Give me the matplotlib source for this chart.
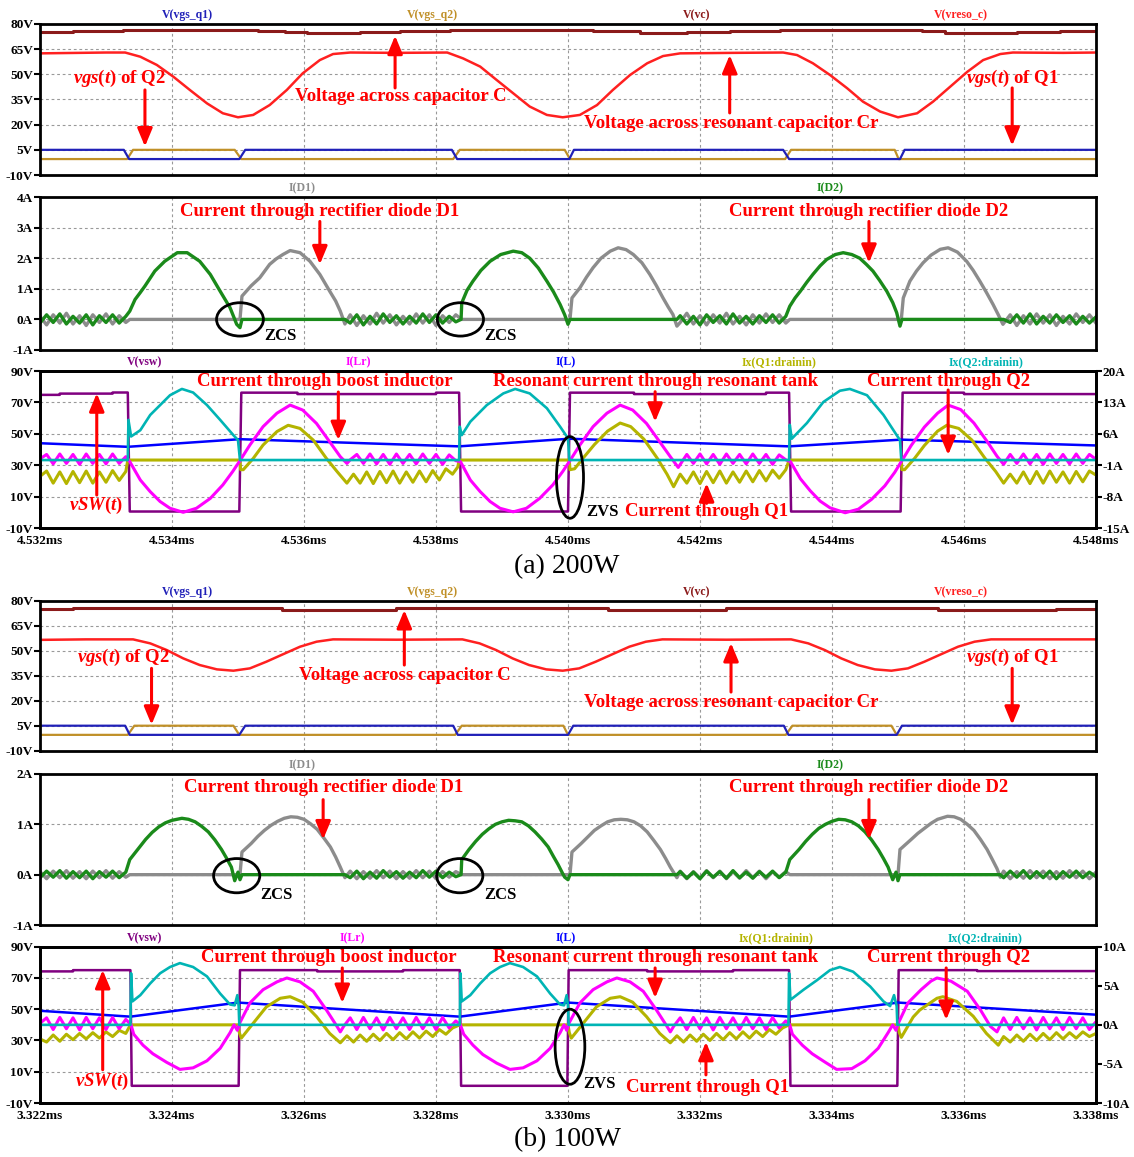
import numpy as np
import matplotlib
matplotlib.use('Agg')
import matplotlib.pyplot as plt
from matplotlib.patches import Ellipse

plt.rcParams['font.family'] = ['Liberation Serif', 'DejaVu Serif']
plt.rcParams['font.weight'] = 'bold'
plt.rcParams['mathtext.fontset'] = 'custom'
plt.rcParams['mathtext.it'] = 'Liberation Serif:italic:bold'
plt.rcParams['mathtext.rm'] = 'Liberation Serif:bold'

# time axis: microseconds from the left edge of each window
x_ticks = [0, 2, 4, 6, 8, 10, 12, 14, 16]
a_xlabels = ['4.532ms', '4.534ms', '4.536ms', '4.538ms', '4.540ms', '4.542ms', '4.544ms', '4.546ms', '4.548ms']
b_xlabels = ['3.322ms', '3.324ms', '3.326ms', '3.328ms', '3.330ms', '3.332ms', '3.334ms', '3.336ms', '3.338ms']

gate_ticks = [80, 65, 50, 35, 20, 5, -10]
gate_labels = ['80V', '65V', '50V', '35V', '20V', '5V', '-10V']
a_diode_ticks = [4, 3, 2, 1, 0, -1]
a_diode_labels = ['4A', '3A', '2A', '1A', '0A', '-1A']
b_diode_ticks = [2, 1, 0, -1]
b_diode_labels = ['2A', '1A', '0A', '-1A']
sw_ticks = [90, 70, 50, 30, 10, -10]
sw_labels = ['90V', '70V', '50V', '30V', '10V', '-10V']
a_cur_ticks = [20, 13, 6, -1, -8, -15]
a_cur_labels = ['20A', '13A', '6A', '-1A', '-8A', '-15A']
b_cur_ticks = [10, 5, 0, -5, -10]
b_cur_labels = ['10A', '5A', '0A', '-5A', '-10A']

# ---------------- (a) 200W ----------------
a_vgs1 = [(0, 5), (1.27, 5), (1.35, -0.5), (3.02, -0.5), (3.11, 5), (6.24, 5), (6.32, -0.5), (8.02, -0.5),
          (8.09, 5), (11.26, 5), (11.35, -0.5), (13.03, -0.5), (13.1, 5), (16, 5)]
a_vgs2 = [(0, -0.5), (1.32, -0.5), (1.41, 5), (2.95, 5), (3.05, -0.5), (6.26, -0.5), (6.36, 5), (7.95, 5),
          (8.03, -0.5), (11.29, -0.5), (11.38, 5), (12.95, 5), (13.01, -0.5), (16, -0.5)]
a_vc = [(0, 75.0), (0.5, 75.8), (1.26, 76.4), (3.3, 75.8), (3.71, 75.0), (4.05, 74.5), (4.85, 75.0),
        (5.45, 75.8), (6.21, 76.4), (8.38, 75.8), (9.09, 74.5), (9.8, 75.0), (10.45, 75.8), (11.21, 76.4),
        (13.36, 75.6), (13.71, 74.5), (14.8, 75.0), (15.45, 75.8), (16, 75.8)]
a_vres = [(0, 62.5), (0.6, 62.8), (1.0, 63.0), (1.29, 63.0), (1.52, 60.5), (1.77, 55.6), (2.02, 48.6),
          (2.27, 40.7), (2.53, 32.7), (2.77, 26.8), (3.0, 24.4), (3.23, 25.8), (3.48, 31.7), (3.74, 40.7),
          (3.98, 50.6), (4.24, 58.5), (4.44, 62.1), (4.7, 63.0), (5.4, 62.8), (6.17, 63.0), (6.41, 59.5),
          (6.67, 54.6), (6.92, 46.6), (7.17, 38.7), (7.42, 30.8), (7.68, 25.8), (7.92, 24.4), (8.18, 25.8),
          (8.44, 31.7), (8.68, 40.7), (8.94, 49.6), (9.2, 56.6), (9.44, 60.9), (9.7, 62.5), (10.5, 62.8),
          (11.26, 63.0), (11.47, 61.5), (11.71, 56.6), (11.97, 49.6), (12.23, 41.7), (12.47, 33.7),
          (12.73, 27.8), (13.0, 24.4), (13.29, 26.8), (13.53, 33.7), (13.79, 42.6), (14.05, 51.5),
          (14.29, 58.5), (14.55, 62.1), (14.74, 63.0), (15.5, 62.8), (16, 63.0)]

a_d1 = [(0.0, 0.10), (0.1, -0.18), (0.2, 0.15), (0.3, -0.12), (0.4, 0.20), (0.5, -0.15), (0.6, 0.12),
        (0.7, -0.20), (0.8, 0.15), (0.9, -0.10), (1.0, 0.18), (1.1, -0.15), (1.2, 0.12), (1.3, -0.10),
        (1.36, 0.0), (3.03, 0.0),
        (3.06, 0.76), (3.2, 1.1), (3.33, 1.36), (3.48, 1.8), (3.58, 1.98), (3.68, 2.12), (3.79, 2.25),
        (3.94, 2.18), (4.09, 1.9), (4.24, 1.47), (4.39, 0.92), (4.48, 0.6), (4.55, 0.27), (4.62, -0.15),
        (4.7, 0.15), (4.8, -0.2), (4.9, 0.12), (5.0, -0.15), (5.1, 0.2), (5.2, -0.12), (5.3, 0.15),
        (5.4, -0.18), (5.5, 0.1), (5.6, -0.15), (5.7, 0.18), (5.8, -0.12), (5.9, 0.15), (6.0, -0.2),
        (6.1, 0.12), (6.2, -0.1), (6.3, 0.15), (6.39, 0.0), (8.03, 0.0),
        (8.06, 0.7), (8.18, 1.03), (8.28, 1.38), (8.38, 1.69), (8.5, 2.0), (8.64, 2.23), (8.76, 2.34),
        (8.88, 2.28), (8.99, 2.12), (9.12, 1.85), (9.24, 1.47), (9.34, 1.1), (9.44, 0.7), (9.52, 0.4),
        (9.59, 0.16), (9.65, -0.22),
        (9.7, -0.1), (9.8, 0.2), (9.9, -0.15), (10.0, 0.12), (10.1, -0.18), (10.2, 0.15), (10.3, -0.12),
        (10.4, 0.2), (10.5, -0.15), (10.6, 0.1), (10.7, -0.18), (10.8, 0.15), (10.9, -0.12), (11.0, 0.18),
        (11.1, -0.1), (11.2, 0.15), (11.3, -0.12), (11.36, 0.0), (13.05, 0.0),
        (13.08, 0.7), (13.18, 1.25), (13.28, 1.58), (13.38, 1.85), (13.5, 2.1), (13.64, 2.29),
        (13.76, 2.34), (13.9, 2.2), (14.04, 1.9), (14.14, 1.6), (14.24, 1.25), (14.34, 0.88),
        (14.44, 0.49), (14.52, 0.15), (14.59, -0.16),
        (14.7, 0.15), (14.8, -0.2), (14.9, 0.12), (15.0, -0.15), (15.1, 0.18), (15.2, -0.12), (15.3, 0.15),
        (15.4, -0.2), (15.5, 0.1), (15.6, -0.15), (15.7, 0.18), (15.8, -0.1), (15.9, 0.15), (16.0, -0.12)]
a_d2 = [(0.0, -0.12), (0.1, 0.15), (0.2, -0.1), (0.3, 0.18), (0.4, -0.15), (0.5, 0.1), (0.6, -0.12),
        (0.7, 0.15), (0.8, -0.18), (0.9, 0.12), (1.0, -0.1), (1.1, 0.15), (1.2, -0.12), (1.3, 0.1),
        (1.36, 0.27), (1.44, 0.65), (1.52, 0.88), (1.59, 1.09), (1.74, 1.58), (1.89, 1.9), (2.08, 2.18),
        (2.23, 2.18), (2.42, 1.9), (2.58, 1.47), (2.73, 0.92), (2.88, 0.38), (2.98, -0.16), (3.03, -0.27),
        (3.06, 0.0), (4.62, 0.0),
        (4.7, -0.12), (4.8, 0.15), (4.9, -0.18), (5.0, 0.1), (5.1, -0.15), (5.2, 0.18), (5.3, -0.1),
        (5.4, 0.12), (5.5, -0.15), (5.6, 0.1), (5.7, -0.12), (5.8, 0.18), (5.9, -0.1), (6.0, 0.15),
        (6.1, -0.12), (6.2, 0.1), (6.3, -0.08),
        (6.38, 0.0), (6.39, 0.54), (6.47, 0.95), (6.56, 1.25), (6.68, 1.6), (6.82, 1.9), (6.98, 2.12),
        (7.17, 2.23), (7.3, 2.18), (7.42, 2.0), (7.55, 1.68), (7.68, 1.25), (7.78, 0.9), (7.88, 0.49),
        (7.95, 0.15), (8.0, -0.16), (8.03, 0.0), (9.65, 0.0),
        (9.7, 0.12), (9.8, -0.15), (9.9, 0.1), (10.0, -0.18), (10.1, 0.15), (10.2, -0.1), (10.3, 0.12),
        (10.4, -0.15), (10.5, 0.18), (10.6, -0.12), (10.7, 0.1), (10.8, -0.15), (10.9, 0.12), (11.0, -0.1),
        (11.1, 0.15), (11.2, -0.12), (11.3, 0.1),
        (11.36, 0.43), (11.44, 0.7), (11.52, 0.92), (11.62, 1.22), (11.71, 1.47), (11.82, 1.75),
        (11.92, 1.96), (12.05, 2.12), (12.17, 2.18), (12.3, 2.12), (12.42, 2.0), (12.52, 1.8),
        (12.62, 1.58), (12.72, 1.28), (12.83, 0.92), (12.92, 0.55), (12.98, 0.22), (13.03, -0.22),
        (13.06, 0.0), (14.6, 0.0),
        (14.7, -0.1), (14.8, 0.15), (14.9, -0.12), (15.0, 0.18), (15.1, -0.15), (15.2, 0.1), (15.3, -0.12),
        (15.4, 0.15), (15.5, -0.1), (15.6, 0.12), (15.7, -0.15), (15.8, 0.1), (15.9, -0.12), (16.0, 0.08)]

a_vsw = [(0, 74.8), (0.3, 74.8), (0.3, 75.6), (1.1, 75.6), (1.1, 76.3), (1.33, 76.3), (1.36, 0.5),
         (3.02, 0.5), (3.05, 76.2), (3.9, 76.2), (3.9, 75.3), (6.0, 75.3), (6.0, 76.2), (6.35, 76.2),
         (6.38, 0.5), (8.0, 0.5), (8.03, 76.2), (9.0, 76.2), (9.0, 75.3), (11.0, 75.3), (11.0, 76.2),
         (11.35, 76.2), (11.38, 0.5), (13.04, 0.5), (13.07, 76.2), (14.0, 76.2), (14.0, 75.3), (16.0, 75.3)]
a_il = [(0, 3.9), (1.33, 3.1), (3.03, 4.8), (6.35, 3.2), (8.02, 4.9), (11.35, 3.2), (13.05, 4.7), (16, 3.4)]
a_iq2 = [(0, 0.15), (1.33, 0.15), (1.34, 9.1), (1.38, 5.4), (1.52, 6.8), (1.67, 10.2), (1.82, 12.4),
         (1.97, 14.6), (2.15, 16.0), (2.32, 15.2), (2.53, 12.4), (2.73, 9.1), (2.93, 5.7), (3.0, 4.6),
         (3.03, 0.15), (6.35, 0.15), (6.36, 7.6), (6.39, 5.7), (6.52, 8.7), (6.77, 12.4), (7.02, 15.0),
         (7.2, 16.0), (7.42, 15.0), (7.68, 11.7), (7.88, 7.6), (8.0, 5.0), (8.02, 0.15), (11.35, 0.15),
         (11.36, 8.0), (11.39, 4.9), (11.62, 8.4), (11.87, 13.1), (12.12, 15.6), (12.27, 16.0),
         (12.53, 14.6), (12.78, 10.2), (12.98, 5.7), (13.03, 4.6), (13.05, 0.15), (16, 0.15)]
a_ilr = [(0.0, 0.4), (0.1, 1.4), (0.2, -0.7), (0.3, 1.5), (0.4, -0.6), (0.5, 1.4), (0.6, -0.8), (0.7, 1.5),
         (0.8, -0.6), (0.9, 1.4), (1.0, -0.7), (1.1, 1.5), (1.2, -0.6), (1.3, 0.9),
         (1.36, -0.2), (1.52, -4.3), (1.67, -6.9), (1.82, -9.1), (1.97, -10.6), (2.17, -11.5),
         (2.37, -10.6), (2.58, -8.4), (2.77, -5.4), (2.92, -2.4), (3.02, -0.2), (3.18, 3.5), (3.38, 7.6),
         (3.59, 10.6), (3.79, 12.4), (3.98, 11.3), (4.19, 8.3), (4.39, 4.2), (4.55, 0.9), (4.65, -0.6),
         (4.7, 0.2), (4.8, 1.4), (4.9, -0.6), (5.0, 1.5), (5.1, -0.7), (5.2, 1.4), (5.3, -0.8), (5.4, 1.5),
         (5.5, -0.6), (5.6, 1.4), (5.7, -0.7), (5.8, 1.5), (5.9, -0.6), (6.0, 1.4), (6.1, -0.8), (6.2, 1.3),
         (6.3, 0.0),
         (6.37, -0.2), (6.52, -4.3), (6.67, -6.9), (6.82, -9.1), (6.97, -10.6), (7.17, -11.4),
         (7.37, -10.6), (7.57, -8.4), (7.77, -5.4), (7.92, -2.4), (8.02, -0.2), (8.18, 3.5), (8.38, 7.6),
         (8.59, 10.6), (8.79, 12.4), (8.98, 11.3), (9.19, 8.3), (9.39, 4.2), (9.55, 0.9), (9.67, -1.5),
         (9.8, 1.4), (9.9, -0.6), (10.0, 1.5), (10.1, -0.7), (10.2, 1.4), (10.3, -0.8), (10.4, 1.5),
         (10.5, -0.6), (10.6, 1.4), (10.7, -0.7), (10.8, 1.5), (10.9, -0.6), (11.0, 1.4), (11.1, -0.8),
         (11.2, 1.3), (11.3, 0.2),
         (11.37, -0.2), (11.52, -4.0), (11.67, -6.7), (11.82, -9.0), (11.97, -10.5), (12.2, -11.6),
         (12.4, -10.8), (12.6, -8.6), (12.8, -5.6), (12.95, -2.6), (13.05, -0.2), (13.2, 3.4), (13.4, 7.5),
         (13.6, 10.6), (13.76, 12.4), (13.95, 11.4), (14.15, 8.4), (14.35, 4.3), (14.5, 1.0), (14.6, -0.8),
         (14.7, 1.4), (14.8, -0.6), (14.9, 1.5), (15.0, -0.7), (15.1, 1.4), (15.2, -0.8), (15.3, 1.5),
         (15.4, -0.6), (15.5, 1.4), (15.6, -0.7), (15.7, 1.5), (15.8, -0.6), (15.9, 1.4), (16.0, 0.3)]
a_iq1 = [(0.0, -3.5), (0.1, -2.3), (0.2, -5.0), (0.3, -2.5), (0.4, -5.1), (0.5, -2.4), (0.6, -4.9),
         (0.7, -2.3), (0.8, -5.0), (0.9, -2.5), (1.0, -4.8), (1.1, -2.2), (1.2, -4.4), (1.3, -2.4),
         (1.33, 0.15), (3.03, 0.15),
         (3.04, -2.0), (3.08, -2.0), (3.23, 0.5), (3.38, 3.5), (3.59, 6.5), (3.76, 7.9), (3.94, 7.2),
         (4.14, 4.6), (4.34, 0.5), (4.5, -2.4), (4.65, -5.0),
         (4.75, -3.0), (4.85, -5.0), (4.95, -2.5), (5.05, -5.1), (5.15, -2.4), (5.25, -4.9), (5.35, -2.3),
         (5.45, -5.0), (5.55, -2.5), (5.65, -4.8), (5.75, -2.3), (5.85, -4.7), (5.95, -2.2), (6.05, -4.3),
         (6.15, -1.8), (6.25, -3.0), (6.33, -1.4), (6.35, 0.15), (8.02, 0.15),
         (8.03, -2.0), (8.1, -1.8), (8.23, 0.6), (8.4, 3.6), (8.6, 6.6), (8.79, 8.4), (8.95, 7.6),
         (9.15, 4.8), (9.35, 0.6), (9.5, -3.0), (9.6, -5.8),
         (9.7, -3.0), (9.8, -5.0), (9.9, -2.5), (10.0, -5.1), (10.1, -2.4), (10.2, -4.9), (10.3, -2.3),
         (10.4, -5.0), (10.5, -2.5), (10.6, -4.8), (10.7, -2.3), (10.8, -4.7), (10.9, -2.2), (11.0, -4.5),
         (11.1, -2.1), (11.2, -3.9), (11.3, -2.0), (11.35, 0.15), (13.05, 0.15),
         (13.06, -2.0), (13.1, -2.0), (13.25, 0.5), (13.4, 3.4), (13.6, 6.6), (13.74, 7.9), (13.92, 7.2),
         (14.12, 4.6), (14.32, 0.5), (14.48, -2.4), (14.6, -5.0),
         (14.7, -3.0), (14.8, -5.0), (14.9, -2.5), (15.0, -5.1), (15.1, -2.4), (15.2, -5.0), (15.3, -2.3),
         (15.4, -4.8), (15.5, -2.5), (15.6, -5.0), (15.7, -2.4), (15.8, -4.7), (15.9, -2.3), (16.0, -3.2)]

# ---------------- (b) 100W ----------------
b_vgs1 = [(0, 5), (1.29, 5), (1.36, -0.5), (3.02, -0.5), (3.11, 5), (6.26, 5), (6.33, -0.5), (8.0, -0.5),
          (8.08, 5), (11.27, 5), (11.34, -0.5), (12.98, -0.5), (13.06, 5), (16, 5)]
b_vgs2 = [(0, -0.5), (1.33, -0.5), (1.43, 5), (2.93, 5), (3.02, -0.5), (6.29, -0.5), (6.39, 5), (7.93, 5),
          (8.0, -0.5), (11.3, -0.5), (11.4, 5), (12.9, 5), (12.98, -0.5), (16, -0.5)]
b_vc = [(0, 74.8), (0.5, 75.4), (3.66, 74.6), (5.4, 75.4), (8.6, 74.6), (10.4, 75.4), (13.6, 74.6),
        (15.4, 75.0), (16, 75.0)]
b_vres = [(0, 56.5), (0.7, 56.8), (1.41, 56.8), (1.67, 54.4), (1.92, 50.4), (2.17, 45.4), (2.42, 41.4),
          (2.68, 38.8), (2.93, 38.0), (3.18, 39.4), (3.43, 43.4), (3.69, 48.0), (3.94, 52.4), (4.19, 55.4),
          (4.44, 56.8), (5.4, 56.6), (6.4, 56.8), (6.66, 54.4), (6.91, 50.4), (7.16, 45.4), (7.41, 41.4),
          (7.67, 38.8), (7.92, 38.0), (8.17, 39.4), (8.42, 43.4), (8.68, 48.0), (8.93, 52.4), (9.18, 55.4),
          (9.43, 56.8), (10.4, 56.6), (11.38, 56.8), (11.64, 54.4), (11.89, 50.4), (12.14, 45.4),
          (12.39, 41.4), (12.65, 38.8), (12.9, 38.0), (13.15, 39.4), (13.4, 43.4), (13.66, 48.0),
          (13.91, 52.4), (14.16, 55.4), (14.41, 56.8), (16, 56.8)]

b_d1 = [(0.0, 0.06), (0.1, -0.08), (0.2, 0.07), (0.3, -0.06), (0.4, 0.08), (0.5, -0.07), (0.6, 0.06),
        (0.7, -0.08), (0.8, 0.07), (0.9, -0.06), (1.0, 0.08), (1.1, -0.07), (1.2, 0.06), (1.3, -0.05),
        (1.36, 0.0), (3.03, 0.0),
        (3.06, 0.45), (3.2, 0.62), (3.3, 0.76), (3.4, 0.88), (3.5, 0.98), (3.6, 1.06), (3.7, 1.12),
        (3.8, 1.15), (3.9, 1.14), (4.0, 1.1), (4.1, 1.01), (4.2, 0.9), (4.3, 0.73), (4.4, 0.55),
        (4.48, 0.35), (4.55, 0.15), (4.62, -0.06),
        (4.7, 0.07), (4.8, -0.08), (4.9, 0.06), (5.0, -0.07), (5.1, 0.08), (5.2, -0.06), (5.3, 0.07),
        (5.4, -0.08), (5.5, 0.06), (5.6, -0.07), (5.7, 0.08), (5.8, -0.06), (5.9, 0.07), (6.0, -0.08),
        (6.1, 0.06), (6.2, -0.05), (6.3, 0.06), (6.39, 0.0), (8.03, 0.0),
        (8.06, 0.45), (8.2, 0.62), (8.3, 0.75), (8.4, 0.88), (8.5, 0.97), (8.6, 1.05), (8.7, 1.09),
        (8.8, 1.1), (8.9, 1.09), (9.0, 1.05), (9.1, 0.97), (9.2, 0.85), (9.3, 0.68), (9.4, 0.5),
        (9.48, 0.32), (9.55, 0.15), (9.65, -0.06),
        (9.7, 0.07), (9.8, -0.08), (9.9, 0.06), (10.0, -0.07), (10.1, 0.08), (10.2, -0.06), (10.3, 0.07),
        (10.4, -0.08), (10.5, 0.06), (10.6, -0.07), (10.7, 0.08), (10.8, -0.06), (10.9, 0.07), (11.0, -0.08),
        (11.1, 0.06), (11.2, -0.05), (11.3, 0.06), (11.36, 0.0), (13.0, 0.0),
        (13.03, 0.5), (13.2, 0.7), (13.3, 0.82), (13.4, 0.92), (13.5, 1.02), (13.6, 1.1), (13.75, 1.16),
        (13.85, 1.15), (13.95, 1.1), (14.05, 1.0), (14.15, 0.88), (14.25, 0.7), (14.35, 0.5),
        (14.43, 0.3), (14.5, 0.12), (14.55, -0.05),
        (14.6, 0.07), (14.7, -0.08), (14.8, 0.06), (14.9, -0.07), (15.0, 0.08), (15.1, -0.06), (15.2, 0.07),
        (15.3, -0.08), (15.4, 0.06), (15.5, -0.07), (15.6, 0.08), (15.7, -0.06), (15.8, 0.07), (15.9, -0.08),
        (16.0, 0.05)]
b_d2 = [(0.0, -0.06), (0.1, 0.07), (0.2, -0.05), (0.3, 0.08), (0.4, -0.07), (0.5, 0.06), (0.6, -0.06),
        (0.7, 0.07), (0.8, -0.08), (0.9, 0.06), (1.0, -0.05), (1.1, 0.07), (1.2, -0.06), (1.3, 0.05),
        (1.36, 0.3), (1.45, 0.45), (1.52, 0.57), (1.6, 0.7), (1.7, 0.84), (1.8, 0.95), (1.9, 1.03),
        (2.0, 1.08), (2.15, 1.12), (2.25, 1.1), (2.35, 1.05), (2.45, 0.96), (2.55, 0.85), (2.65, 0.69),
        (2.75, 0.5), (2.83, 0.32), (2.9, 0.15), (2.95, -0.12), (3.0, 0.05), (3.03, -0.1), (3.06, 0.0),
        (4.62, 0.0),
        (4.7, -0.06), (4.8, 0.07), (4.9, -0.08), (5.0, 0.05), (5.1, -0.07), (5.2, 0.08), (5.3, -0.05),
        (5.4, 0.06), (5.5, -0.07), (5.6, 0.05), (5.7, -0.06), (5.8, 0.08), (5.9, -0.05), (6.0, 0.07),
        (6.1, -0.06), (6.2, 0.05), (6.3, -0.04),
        (6.38, 0.0), (6.39, 0.3), (6.5, 0.5), (6.6, 0.66), (6.7, 0.8), (6.8, 0.91), (6.9, 1.0),
        (7.0, 1.05), (7.1, 1.08), (7.2, 1.07), (7.3, 1.05), (7.4, 0.97), (7.5, 0.85), (7.6, 0.71),
        (7.7, 0.55), (7.78, 0.36), (7.85, 0.2), (7.92, 0.02), (7.95, -0.05), (8.0, -0.1), (8.03, 0.0),
        (9.65, 0.0),
        (9.7, 0.06), (9.8, -0.07), (9.9, 0.05), (10.0, -0.08), (10.1, 0.07), (10.2, -0.05), (10.3, 0.06),
        (10.4, -0.07), (10.5, 0.08), (10.6, -0.06), (10.7, 0.05), (10.8, -0.07), (10.9, 0.06), (11.0, -0.05),
        (11.1, 0.07), (11.2, -0.06), (11.3, 0.05),
        (11.36, 0.3), (11.5, 0.5), (11.6, 0.66), (11.7, 0.8), (11.8, 0.92), (11.9, 1.0), (12.0, 1.06),
        (12.1, 1.1), (12.2, 1.09), (12.3, 1.05), (12.4, 0.97), (12.5, 0.85), (12.6, 0.69), (12.7, 0.5),
        (12.78, 0.32), (12.85, 0.15), (12.92, -0.1), (12.97, 0.05), (13.0, -0.12), (13.03, 0.0),
        (14.55, 0.0),
        (14.6, -0.06), (14.7, 0.07), (14.8, -0.05), (14.9, 0.08), (15.0, -0.07), (15.1, 0.06), (15.2, -0.06),
        (15.3, 0.07), (15.4, -0.08), (15.5, 0.06), (15.6, -0.05), (15.7, 0.07), (15.8, -0.06), (15.9, 0.05),
        (16.0, -0.04)]

b_vsw = [(0, 74.2), (0.5, 74.2), (0.5, 75.0), (1.37, 75.0), (1.39, 1.0), (3.01, 1.0), (3.03, 75.0),
         (4.2, 75.0), (4.2, 74.2), (5.5, 74.2), (5.5, 75.0), (6.36, 75.0), (6.38, 1.0), (7.99, 1.0),
         (8.01, 75.0), (9.2, 75.0), (9.2, 74.2), (10.5, 74.2), (10.5, 75.0), (11.35, 75.0), (11.37, 1.0),
         (12.99, 1.0), (13.01, 75.0), (14.2, 75.0), (14.2, 74.4), (16.0, 74.4)]
b_il = [(0, 1.8), (1.37, 1.05), (3.0, 2.85), (6.36, 1.05), (8.0, 2.85), (11.35, 1.05), (13.0, 2.85), (16, 1.3)]
b_iq2 = [(0, 0.0), (1.37, 0.0), (1.38, 6.6), (1.4, 3.0), (1.52, 3.8), (1.67, 5.3), (1.82, 6.6),
         (1.97, 7.4), (2.12, 7.9), (2.32, 7.4), (2.53, 6.2), (2.73, 4.0), (2.88, 2.6), (2.95, 2.5),
         (2.99, 3.8), (3.01, 2.4), (3.02, 0.0), (6.36, 0.0), (6.37, 6.6), (6.39, 3.0), (6.52, 3.8),
         (6.67, 5.3), (6.82, 6.6), (6.97, 7.4), (7.12, 7.9), (7.32, 7.4), (7.53, 6.2), (7.73, 4.0),
         (7.88, 2.6), (7.94, 2.5), (7.98, 3.8), (8.0, 2.4), (8.01, 0.0), (11.34, 0.0), (11.35, 6.6),
         (11.37, 3.2), (11.57, 4.5), (11.77, 5.7), (11.97, 7.0), (12.12, 7.4), (12.32, 6.8), (12.58, 4.9),
         (12.78, 3.0), (12.88, 2.4), (12.94, 3.8), (12.98, 2.4), (12.99, 0.0), (16, 0.0)]
b_ilr = [(0.0, 0.2), (0.1, 0.9), (0.2, -0.6), (0.3, 0.95), (0.4, -0.5), (0.5, 0.9), (0.6, -0.65),
         (0.7, 0.95), (0.8, -0.5), (0.9, 0.9), (1.0, -0.6), (1.1, 0.95), (1.2, -0.5), (1.3, 0.7),
         (1.38, 0.0), (1.42, -1.2), (1.56, -2.6), (1.71, -3.7), (1.92, -4.8), (2.12, -5.7), (2.32, -5.5),
         (2.53, -4.6), (2.73, -3.0), (2.88, -1.0), (2.94, 0.0), (2.99, -0.7), (3.03, 0.3), (3.18, 2.8),
         (3.38, 4.5), (3.59, 5.5), (3.74, 6.0), (3.94, 5.5), (4.14, 4.3), (4.34, 1.9), (4.5, -0.2),
         (4.55, -0.9),
         (4.6, -0.2), (4.7, 0.9), (4.8, -0.6), (4.9, 0.95), (5.0, -0.5), (5.1, 0.9), (5.2, -0.65),
         (5.3, 0.95), (5.4, -0.5), (5.5, 0.9), (5.6, -0.6), (5.7, 0.95), (5.8, -0.5), (5.9, 0.9),
         (6.0, -0.6), (6.1, 0.95), (6.2, -0.4), (6.3, 0.5),
         (6.37, 0.0), (6.42, -1.2), (6.56, -2.6), (6.71, -3.8), (6.92, -4.9), (7.12, -5.7), (7.32, -5.5),
         (7.53, -4.6), (7.73, -3.0), (7.88, -1.0), (7.94, 0.0), (7.98, -0.7), (8.02, 0.3), (8.18, 2.8),
         (8.38, 4.5), (8.59, 5.5), (8.74, 6.0), (8.94, 5.5), (9.14, 4.3), (9.34, 1.9), (9.5, -0.2),
         (9.55, -0.9),
         (9.6, -0.2), (9.7, 0.9), (9.8, -0.6), (9.9, 0.95), (10.0, -0.5), (10.1, 0.9), (10.2, -0.65),
         (10.3, 0.95), (10.4, -0.5), (10.5, 0.9), (10.6, -0.6), (10.7, 0.95), (10.8, -0.5), (10.9, 0.9),
         (11.0, -0.6), (11.1, 0.95), (11.2, -0.4), (11.3, 0.5),
         (11.36, 0.0), (11.4, -1.2), (11.55, -2.6), (11.7, -3.7), (11.9, -4.8), (12.07, -5.7), (12.3, -5.6),
         (12.5, -4.6), (12.7, -3.0), (12.85, -1.0), (12.92, 0.0), (12.97, -0.7), (13.01, 0.3), (13.15, 2.8),
         (13.35, 4.5), (13.5, 5.6), (13.59, 6.0), (13.8, 5.6), (14.05, 4.3), (14.25, 1.9), (14.4, -0.2),
         (14.5, -0.9),
         (14.6, 0.9), (14.7, -0.6), (14.8, 0.95), (14.9, -0.5), (15.0, 0.9), (15.1, -0.65), (15.2, 0.95),
         (15.3, -0.5), (15.4, 0.9), (15.5, -0.6), (15.6, 0.95), (15.7, -0.5), (15.8, 0.9), (15.9, -0.6),
         (16.0, 0.4)]
b_iq1 = [(0.0, -1.8), (0.1, -2.2), (0.2, -1.3), (0.3, -2.1), (0.4, -1.2), (0.5, -1.9), (0.6, -1.1),
         (0.7, -1.8), (0.8, -1.0), (0.9, -1.7), (1.0, -0.9), (1.1, -1.5), (1.2, -0.7), (1.3, -1.1),
         (1.37, 0.0), (3.0, 0.0),
         (3.02, -1.0), (3.05, -1.7), (3.23, 0.2), (3.43, 2.3), (3.64, 3.4), (3.79, 3.6), (3.98, 2.9),
         (4.19, 1.05), (4.39, -1.1), (4.55, -2.3),
         (4.65, -1.4), (4.75, -2.2), (4.85, -1.3), (4.95, -2.1), (5.05, -1.2), (5.15, -2.0), (5.25, -1.1),
         (5.35, -1.9), (5.45, -1.0), (5.55, -1.8), (5.65, -0.9), (5.75, -1.7), (5.85, -0.8), (5.95, -1.5),
         (6.05, -0.6), (6.15, -1.2), (6.25, -0.4), (6.36, 0.0), (8.0, 0.0),
         (8.02, -1.0), (8.05, -1.7), (8.23, 0.2), (8.43, 2.3), (8.64, 3.4), (8.79, 3.6), (8.98, 2.9),
         (9.19, 1.05), (9.39, -1.1), (9.55, -2.3),
         (9.65, -1.4), (9.75, -2.2), (9.85, -1.3), (9.95, -2.1), (10.05, -1.2), (10.15, -2.0), (10.25, -1.1),
         (10.35, -1.9), (10.45, -1.0), (10.55, -1.8), (10.65, -0.9), (10.75, -1.7), (10.85, -0.8),
         (10.95, -1.5), (11.05, -0.6), (11.15, -1.2), (11.25, -0.4), (11.35, 0.0), (13.0, 0.0),
         (13.02, -1.0), (13.05, -1.6), (13.23, 1.0), (13.33, 1.9), (13.59, 3.4), (13.68, 3.6), (13.89, 3.0),
         (14.14, 1.1), (14.34, -1.1), (14.52, -2.6),
         (14.6, -1.5), (14.7, -2.2), (14.8, -1.3), (14.9, -2.1), (15.0, -1.2), (15.1, -2.0), (15.2, -1.1),
         (15.3, -1.9), (15.4, -1.0), (15.5, -1.8), (15.6, -1.0), (15.7, -1.7), (15.8, -0.9), (15.9, -1.5),
         (16.0, -1.1)]

c_vgs1 = '#2020b8'
c_vgs2 = '#c09028'
c_vc = '#8b1a1a'
c_vres = '#ff2020'
c_d1 = '#8c8c8c'
c_d2 = '#1a8a1a'
c_vsw = '#800080'
c_lr = '#ff00ff'
c_l = '#0000ff'
c_q1 = '#b4b400'
c_q2 = '#00b4b4'

LEFT = 40 / 1134
WIDTH = (1096 - 40) / 1134
H = 1157


def rect(top, bottom):
    return [LEFT, 1 - bottom / H, WIDTH, (bottom - top) / H]


def style(ax, ylim, yticks, ylabels, xlabels=None):
    ax.set_xlim(0, 16)
    ax.set_ylim(*ylim)
    ax.set_xticks(x_ticks)
    ax.set_xticklabels(xlabels if xlabels else [])
    ax.set_yticks(yticks)
    ax.set_yticklabels(ylabels)
    ax.tick_params(axis='x', length=0, labelsize=9.5, pad=5)
    ax.tick_params(axis='y', direction='out', length=4, width=1.5, labelsize=9.5, pad=1)
    ax.grid(True, color='#999999', linestyle=(0, (2.5, 2.5)), linewidth=0.8)
    for s in ax.spines.values():
        s.set_linewidth(2.0)


def trace(ax, pts, color, lw=1.6, **kw):
    t, v = zip(*pts)
    ax.plot(t, v, color=color, lw=lw, **kw)


def series_labels(ax, items):
    for text, x, color in items:
        ax.annotate(text, xy=(x, 1), xycoords=('data', 'axes fraction'), xytext=(0, 2),
                    textcoords='offset points', ha='center', va='bottom', fontsize=8.5, color=color)


def note(ax, x, y, s, trans=None, color='red', size=13.5):
    ax.text(x, y, s, transform=trans or ax.transData, ha='center', va='center',
            color=color, fontsize=size, zorder=10)


def arrow(ax, x, y0, y1, trans=None):
    tr = trans or ax.transData
    ax.annotate('', xy=(x, y1), xytext=(x, y0), xycoords=tr, textcoords=tr, zorder=10,
                arrowprops=dict(arrowstyle='-|>,head_length=0.6,head_width=0.25', color='red',
                                lw=2.2, mutation_scale=18, shrinkA=0, shrinkB=0))


def ring(ax, x, y, w, h, trans=None):
    ax.add_patch(Ellipse((x, y), w, h, transform=trans or ax.transData, fill=False,
                         ec='black', lw=2.0, zorder=10))


def gate_panel(ax, vgs1, vgs2, vc, vres):
    style(ax, (-10, 80), gate_ticks, gate_labels)
    trace(ax, vc, c_vc, lw=2.2, drawstyle='steps-post')
    trace(ax, vres, c_vres, lw=1.8)
    trace(ax, vgs2, c_vgs2, lw=1.6)
    trace(ax, vgs1, c_vgs1, lw=1.6)
    series_labels(ax, [('V(vgs_q1)', 2.23, c_vgs1), ('V(vgs_q2)', 5.95, c_vgs2),
                       ('V(vc)', 9.95, c_vc), ('V(vreso_c)', 13.95, c_vres)])


def diode_panel(ax, d1, d2, ylim, yticks, ylabels):
    style(ax, ylim, yticks, ylabels)
    trace(ax, d1, c_d1, lw=2.4)
    trace(ax, d2, c_d2, lw=2.4)
    series_labels(ax, [('I(D1)', 3.97, c_d1), ('I(D2)', 11.97, c_d2)])


def switch_panel(ax, vsw, il, iq2, ilr, iq1, cur_lim, cur_ticks, cur_labels, xlabels, lab_x):
    style(ax, (-10, 90), sw_ticks, sw_labels, xlabels)
    trace(ax, vsw, c_vsw, lw=1.8)
    ax2 = ax.twinx()
    ax2.set_ylim(*cur_lim)
    ax2.set_yticks(cur_ticks)
    ax2.set_yticklabels(cur_labels)
    ax2.tick_params(axis='y', direction='out', length=4, width=1.5, labelsize=9.5, pad=1)
    for s in ax2.spines.values():
        s.set_linewidth(2.0)
    trace(ax2, il, c_l, lw=1.8)
    trace(ax2, iq1, c_q1, lw=2.2)
    trace(ax2, ilr, c_lr, lw=2.2)
    trace(ax2, iq2, c_q2, lw=1.9)
    series_labels(ax, [('V(vsw)', lab_x[0], c_vsw), ('I(Lr)', lab_x[1], c_lr), ('I(L)', lab_x[2], c_l),
                       ('Ix(Q1:drainin)', lab_x[3], c_q1), ('Ix(Q2:drainin)', lab_x[4], c_q2)])
    return ax2


fig = plt.figure(figsize=(11.34, 11.57), dpi=100)

# (a) 200W
ax1 = fig.add_axes(rect(24, 175))
gate_panel(ax1, a_vgs1, a_vgs2, a_vc, a_vres)
note(ax1, 1.2, 47.8, r'$vgs(t)$ of Q2')
arrow(ax1, 1.59, 40.7, 7.0)
note(ax1, 5.47, 36.5, 'Voltage across capacitor C')
arrow(ax1, 5.38, 41.9, 73.0)
note(ax1, 10.47, 20.4, 'Voltage across resonant capacitor Cr')
arrow(ax1, 10.45, 27.0, 61.5)
note(ax1, 14.73, 47.8, r'$vgs(t)$ of Q1')
arrow(ax1, 14.73, 41.9, 7.5)

ax2 = fig.add_axes(rect(197, 350))
diode_panel(ax2, a_d1, a_d2, (-1, 4), a_diode_ticks, a_diode_labels)
note(ax2, 4.23, 3.54, 'Current through rectifier diode D1')
arrow(ax2, 4.24, 3.2, 1.8)
note(ax2, 12.56, 3.54, 'Current through rectifier diode D2')
arrow(ax2, 12.56, 3.2, 1.85)
ring(ax2, 3.03, 0.0, 0.71, 1.09)
ring(ax2, 6.37, 0.0, 0.7, 1.09)
note(ax2, 3.65, -0.55, 'ZCS', color='black', size=12)
note(ax2, 6.98, -0.55, 'ZCS', color='black', size=12)

ax3 = fig.add_axes(rect(371, 528))
ax3r = switch_panel(ax3, a_vsw, a_il, a_iq2, a_ilr, a_iq1, (-15, 20), a_cur_ticks, a_cur_labels,
                    a_xlabels, [1.59, 4.82, 7.97, 11.2, 14.33])
tr = ax3.transData
note(ax3r, 4.32, 83.6, 'Current through boost inductor', trans=tr)
arrow(ax3r, 4.52, 76.6, 46.0, trans=tr)
note(ax3r, 9.32, 83.6, 'Resonant current through resonant tank', trans=tr)
arrow(ax3r, 9.32, 76.8, 57.7, trans=tr)
note(ax3r, 13.76, 83.6, 'Current through Q2', trans=tr)
arrow(ax3r, 13.76, 77.9, 36.5, trans=tr)
note(ax3r, 0.85, 4.6, r'$vSW(t)$', trans=tr)
arrow(ax3r, 0.86, 11.0, 75.8, trans=tr)
ring(ax3r, 8.03, 22.2, 0.41, 52, trans=tr)
note(ax3r, 8.52, 0.4, 'ZVS', trans=tr, color='black', size=12)
note(ax3r, 10.1, 0.2, 'Current through Q1', trans=tr)
arrow(ax3r, 10.1, 5.7, 18.5, trans=tr)

# (b) 100W
ax4 = fig.add_axes(rect(600.7, 750.7))
gate_panel(ax4, b_vgs1, b_vgs2, b_vc, b_vres)
note(ax4, 1.27, 46.2, r'$vgs(t)$ of Q2')
arrow(ax4, 1.69, 39.4, 5.6)
note(ax4, 5.52, 35.4, 'Voltage across capacitor C')
arrow(ax4, 5.52, 41.4, 74.4)
note(ax4, 10.48, 19.2, 'Voltage across resonant capacitor Cr')
arrow(ax4, 10.47, 25.2, 54.6)
note(ax4, 14.73, 46.2, r'$vgs(t)$ of Q1')
arrow(ax4, 14.73, 39.4, 5.6)

ax5 = fig.add_axes(rect(774, 925))
diode_panel(ax5, b_d1, b_d2, (-1, 2), b_diode_ticks, b_diode_labels)
note(ax5, 4.29, 1.73, 'Current through rectifier diode D1')
arrow(ax5, 4.29, 1.49, 0.7)
note(ax5, 12.56, 1.73, 'Current through rectifier diode D2')
arrow(ax5, 12.56, 1.49, 0.7)
ring(ax5, 2.98, -0.02, 0.7, 0.68)
ring(ax5, 6.36, -0.02, 0.7, 0.68)
note(ax5, 3.58, -0.4, 'ZCS', color='black', size=12)
note(ax5, 6.97, -0.4, 'ZCS', color='black', size=12)

ax6 = fig.add_axes(rect(946.7, 1103))
ax6r = switch_panel(ax6, b_vsw, b_il, b_iq2, b_ilr, b_iq1, (-10, 10), b_cur_ticks, b_cur_labels,
                    b_xlabels, [1.59, 4.73, 7.97, 11.15, 14.32])
tr = ax6.transData
note(ax6r, 4.38, 83.4, 'Current through boost inductor', trans=tr)
arrow(ax6r, 4.58, 76.4, 54.0, trans=tr)
note(ax6r, 9.33, 83.4, 'Resonant current through resonant tank', trans=tr)
arrow(ax6r, 9.32, 76.4, 57.2, trans=tr)
note(ax6r, 13.76, 83.4, 'Current through Q2', trans=tr)
arrow(ax6r, 13.73, 76.4, 43.2, trans=tr)
note(ax6r, 0.94, 3.6, r'$vSW(t)$', trans=tr)
arrow(ax6r, 0.95, 11.3, 75.1, trans=tr)
ring(ax6r, 8.03, 26.0, 0.45, 48, trans=tr)
note(ax6r, 8.48, 2.3, 'ZVS', trans=tr, color='black', size=12)
note(ax6r, 10.12, -0.2, 'Current through Q1', trans=tr)
arrow(ax6r, 10.09, 8.0, 29.1, trans=tr)

fig.text(0.5, 1 - 567 / H, '(a) 200W', ha='center', va='center', fontsize=20, fontweight='normal')
fig.text(0.5, 1 - 1140 / H, '(b) 100W', ha='center', va='center', fontsize=20, fontweight='normal')

fig.savefig('out.png', dpi=100)
